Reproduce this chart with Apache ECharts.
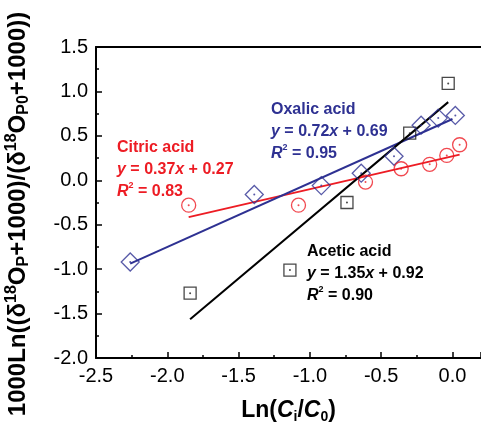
<!DOCTYPE html>
<html>
<head>
<meta charset="utf-8">
<script src="https://cdn.jsdelivr.net/npm/echarts@6/dist/echarts.min.js"></script>
<style>
  html, body { margin: 0; padding: 0; background: #fff; }
  #chart { width: 481px; height: 429px; }
</style>
</head>
<body>
<div id="chart"></div>
<script>
// points: [Ln(Ci/C0), 1000Ln(...)]
var aceticPts = [[-1.84, -1.27], [-1.14, -1.01], [-0.74, -0.25], [-0.30, 0.53], [-0.03, 1.09]];
var oxalicPts = [[-2.26, -0.92], [-1.39, -0.16], [-0.92, -0.06], [-0.64, 0.08], [-0.41, 0.27], [-0.22, 0.62], [-0.10, 0.70], [0.02, 0.73]];
var citricPts = [[-1.85, -0.28], [-1.08, -0.28], [-0.61, -0.02], [-0.36, 0.13], [-0.16, 0.18], [-0.04, 0.28], [0.05, 0.40]];

// fits printed on the figure: slope, intercept, x range
var aceticFit = { k: 1.35, b: 0.92, from: -1.84, to: -0.03 };
var oxalicFit = { k: 0.72, b: 0.69, from: -2.26, to: 0.0 };
var citricFit = { k: 0.37, b: 0.27, from: -1.85, to: 0.05 };

var xTicks = { min: -2.5, max: 0.2, step: 0.5 };
var yTicks = { min: -2.0, max: 1.5, step: 0.5 };

var BLACK = '#1a1a1a', BLUE = '#2e3192', RED = '#ed1c24';
var FONT = 'Liberation Sans, Arial, sans-serif';

function fitLine(f) {
    return [[f.from, f.k * f.from + f.b], [f.to, f.k * f.to + f.b]];
}

function pts(name, data, symbol, size, color) {
    return {
        name: name, type: 'scatter', data: data, symbol: symbol, symbolSize: size,
        itemStyle: { color: 'rgba(0,0,0,0)', borderColor: color, borderWidth: 1.3 },
        z: 4
    };
}
function dots(data, color) {
    return { type: 'scatter', data: data, symbol: 'circle', symbolSize: 2,
        itemStyle: { color: color }, z: 5, silent: true };
}
function line(data, color) {
    return { type: 'line', data: data, symbol: 'none', lineStyle: { color: color, width: 2 }, z: 3 };
}

// zrender text styles (graphic elements use fill, not color)
var rich = function (color) {
    return {
        b: { fontFamily: FONT, fontWeight: 'bold', fontSize: 16, fill: color },
        i: { fontFamily: FONT, fontWeight: 'bold', fontStyle: 'italic', fontSize: 16, fill: color },
        s: { fontFamily: FONT, fontWeight: 'bold', fontSize: 9, fill: color, verticalAlign: 'top', padding: [0, 0, 8, 0] }
    };
};
function note(x, y, lines, color) {
    return {
        type: 'text', left: x, top: y,
        style: { text: lines.join('\n'), rich: rich(color), lineHeight: 22, fill: color }
    };
}

var chart = echarts.init(document.getElementById('chart'));
chart.setOption({
    animation: false,
    grid: { left: 96, right: 0, top: 47, bottom: 66 },
    xAxis: [{
        type: 'value', min: xTicks.min, max: xTicks.max, interval: xTicks.step,
        name: '{b|Ln(}{bi|C}{sub|i}{b|/}{bi|C}{sub|0}{b|)}',
        nameLocation: 'middle', nameGap: 40,
        nameTextStyle: {
            rich: {
                b: { fontFamily: FONT, fontWeight: 'bold', fontSize: 23, color: '#000' },
                bi: { fontFamily: FONT, fontWeight: 'bold', fontStyle: 'italic', fontSize: 23, color: '#000' },
                sub: { fontFamily: FONT, fontWeight: 'bold', fontSize: 14, color: '#000', verticalAlign: 'bottom', padding: [12, 0, 0, 0] }
            }
        },
        axisLine: { onZero: false, lineStyle: { color: '#000', width: 2 } },
        axisTick: { inside: true, length: 6, lineStyle: { color: '#000', width: 1.5 } },
        minorTick: { show: true, splitNumber: 2, length: 3, lineStyle: { color: '#000', width: 1.5 } },
        axisLabel: { color: '#000', fontFamily: FONT, fontSize: 20, margin: 8, showMaxLabel: false,
            formatter: function (v) { return v.toFixed(1); } },
        splitLine: { show: false }
    }, {
        type: 'value', position: 'top', min: xTicks.min, max: xTicks.max,
        axisLine: { show: true, onZero: false, lineStyle: { color: '#000', width: 2 } },
        axisTick: { show: false }, axisLabel: { show: false }, splitLine: { show: false }
    }],
    yAxis: {
        type: 'value', min: yTicks.min, max: yTicks.max, interval: yTicks.step,
        axisLine: { show: true, onZero: false, lineStyle: { color: '#000', width: 2 } },
        axisTick: { inside: true, length: 6, lineStyle: { color: '#000', width: 1.5 } },
        minorTick: { show: true, splitNumber: 2, length: 3, lineStyle: { color: '#000', width: 1.5 } },
        axisLabel: { color: '#000', fontFamily: FONT, fontSize: 20, margin: 8,
            formatter: function (v) { return v.toFixed(1); } },
        splitLine: { show: false }
    },
    graphic: [
        {
            type: 'text', x: 18, y: 214, rotation: Math.PI / 2,
            style: {
                text: '{b|1000Ln((δ}{sup|18}{b|O}{sub|P}{b|+1000)/(δ}{sup|18}{b|O}{sub|P0}{b|+1000))}',
                align: 'center', verticalAlign: 'middle',
                rich: {
                    b: { fontFamily: FONT, fontWeight: 'bold', fontSize: 24, fill: '#000' },
                    sup: { fontFamily: FONT, fontWeight: 'bold', fontSize: 16, fill: '#000', verticalAlign: 'top', padding: [0, 0, 10, 0] },
                    sub: { fontFamily: FONT, fontWeight: 'bold', fontSize: 16, fill: '#000', verticalAlign: 'bottom', padding: [12, 0, 0, 0] }
                }
            }
        },
        note(271, 99, ['{b|Oxalic acid}', '{i|y}{b| = 0.72}{i|x}{b| + 0.69}', '{i|R}{s|2}{b| = 0.95}'], BLUE),
        note(117, 137, ['{b|Citric acid}', '{i|y}{b| = 0.37}{i|x}{b| + 0.27}', '{i|R}{s|2}{b| = 0.83}'], RED),
        note(307, 241, ['{b|Acetic acid}', '{i|y}{b| = 1.35}{i|x}{b| + 0.92}', '{i|R}{s|2}{b| = 0.90}'], '#000')
    ],
    series: [
        line(fitLine(citricFit), RED),
        line(fitLine(oxalicFit), BLUE),
        line(fitLine(aceticFit), '#000'),
        pts('Acetic acid', aceticPts, 'rect', 12, BLACK),
        pts('Oxalic acid', oxalicPts, 'diamond', 18, BLUE),
        pts('Citric acid', citricPts, 'circle', 14, RED),
        dots(aceticPts, BLACK),
        dots(oxalicPts, BLUE),
        dots(citricPts, RED)
    ]
});
</script>
</body>
</html>
